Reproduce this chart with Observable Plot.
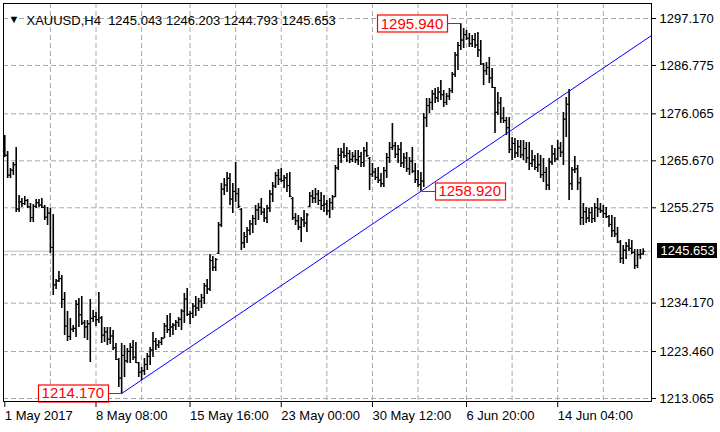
<!DOCTYPE html>
<html><head><meta charset="utf-8">
<script src="https://cdn.jsdelivr.net/npm/d3@7"></script>
<script src="https://cdn.jsdelivr.net/npm/@observablehq/plot@0.6"></script>
<style>
html,body{margin:0;padding:0;background:#fff;}
#chart svg text{font-family:"Liberation Sans",Arial,sans-serif;}
g[aria-label="x-axis tick label"] text, g[aria-label="x-axis"] text{text-anchor:start;}
#chart svg text{white-space:pre;}
</style></head><body><div id="chart"></div>
<script>
const symbolName = "XAUUSD,H4";
const timeLabels = ["1 May 2017","8 May 08:00","15 May 16:00","23 May 00:00","30 May 12:00","6 Jun 20:00","14 Jun 04:00"];
const timeLabelBars = [0,32,65,97,129,162,194];
const timeGridBars = [16,32,48,65,81,97,113,129,145,162,178,194,210];
const priceTicks = [1213.065,1223.460,1234.170,1255.275,1265.670,1276.065,1286.775,1297.170];
const priceGrid = [1213.065,1223.460,1234.170,1244.880,1255.275,1265.670,1276.065,1286.775,1297.170];

const open = [1267.8,1266.9,1262.5,1263.6,1264.8,1255.0,1256.6,1256.2,1256.9,1255.5,
1253.1,1255.6,1256.4,1255.9,1255.4,1253.2,1254.1,1246.5,1238.2,1239.1,
1239.6,1235.0,1229.1,1226.8,1228.4,1228.6,1233.9,1231.6,1229.8,1228.9,
1229.6,1230.8,1231.2,1230.5,1230.9,1227.1,1227.8,1226.2,1226.9,1224.3,
1221.7,1217.6,1222.6,1221.4,1223.5,1224.4,1222.2,1221.0,1218.9,1219.2,
1220.6,1222.4,1223.8,1225.7,1224.9,1225.5,1226.4,1229.1,1228.3,1228.9,
1229.3,1229.9,1230.6,1232.4,1235.1,1231.7,1231.9,1233.5,1233.1,1234.6,
1235.4,1238.0,1237.3,1243.6,1242.1,1245.2,1251.5,1259.4,1260.3,1261.8,
1257.2,1258.9,1258.4,1254.9,1247.5,1248.9,1250.3,1251.7,1252.9,1254.8,
1255.4,1254.3,1253.0,1255.2,1258.3,1260.1,1262.4,1261.6,1261.3,1261.9,
1260.2,1257.3,1253.1,1252.4,1251.0,1252.6,1251.9,1255.6,1257.9,1257.4,
1258.3,1256.9,1255.8,1256.1,1254.6,1256.4,1257.7,1264.1,1266.9,1267.6,
1266.8,1267.3,1266.0,1266.7,1265.9,1266.6,1265.3,1267.9,1266.2,1262.7,
1263.2,1262.0,1261.4,1260.6,1263.5,1266.4,1268.6,1269.0,1267.1,1268.2,
1265.2,1266.3,1263.9,1265.6,1263.4,1261.5,1260.4,1261.2,1275.2,1277.9,
1278.6,1280.5,1279.6,1280.9,1280.3,1278.6,1280.0,1281.2,1284.8,1289.1,
1291.2,1292.4,1293.6,1292.8,1291.6,1292.5,1291.3,1290.2,1287.1,1285.6,
1286.3,1284.0,1281.9,1276.4,1278.5,1275.1,1274.6,1273.0,1268.2,1269.5,
1267.4,1268.8,1267.0,1268.4,1266.3,1265.1,1265.9,1264.2,1264.8,1262.6,
1263.1,1260.3,1265.4,1267.2,1266.1,1268.5,1267.6,1274.9,1278.2,1260.6,
1263.7,1263.9,1260.8,1253.1,1254.4,1253.0,1254.2,1252.9,1255.3,1255.0,
1254.6,1254.0,1253.3,1251.6,1250.2,1249.5,1247.7,1244.1,1245.9,1246.8,
1246.3,1245.4,1242.5,1244.9,1245.043];

const high = [1271.27,1267.73,1263.97,1265.30,1268.62,1258.00,1257.33,1257.77,1257.11,1256.22,
1256.00,1257.11,1257.11,1257.33,1255.78,1255.34,1255.12,1253.79,1239.40,1241.18,
1240.29,1236.53,1232.32,1230.77,1229.22,1234.76,1235.20,1235.64,1230.33,1230.33,
1234.98,1232.54,1232.10,1236.53,1231.21,1228.78,1228.78,1228.78,1228.12,1225.24,
1221.92,1225.24,1224.80,1224.13,1225.24,1225.90,1225.46,1221.03,1219.93,1221.92,
1223.03,1224.35,1227.67,1226.34,1225.90,1226.57,1229.66,1231.44,1231.88,1229.66,
1230.33,1230.99,1232.77,1236.31,1237.41,1232.32,1234.09,1235.64,1235.20,1236.08,
1238.52,1239.40,1244.94,1244.50,1244.05,1252.02,1260.65,1261.76,1263.09,1262.87,
1260.65,1265.30,1259.55,1255.12,1249.81,1250.91,1252.46,1253.57,1255.78,1256.22,
1257.33,1255.12,1255.78,1259.10,1260.87,1263.09,1263.75,1263.97,1262.42,1262.87,
1263.09,1257.55,1254.01,1253.57,1253.13,1254.68,1254.01,1258.66,1259.10,1259.55,
1259.10,1258.66,1258.00,1256.89,1257.33,1258.00,1264.64,1268.40,1268.40,1269.50,
1268.62,1267.95,1267.51,1267.95,1267.95,1267.51,1268.62,1269.73,1266.41,1265.08,
1263.97,1264.19,1262.87,1264.19,1267.29,1269.73,1273.93,1269.73,1269.06,1269.73,
1267.29,1267.51,1266.41,1268.62,1265.08,1263.53,1263.09,1276.14,1279.46,1279.46,
1281.23,1281.68,1281.90,1283.45,1281.23,1280.57,1281.68,1285.22,1289.65,1291.86,
1295.94,1294.96,1294.51,1293.85,1293.41,1293.85,1294.07,1292.30,1287.21,1287.43,
1288.54,1286.10,1281.90,1280.79,1279.69,1277.47,1275.26,1275.26,1270.83,1270.61,
1270.17,1270.17,1270.17,1269.73,1269.73,1267.95,1266.85,1267.29,1266.85,1266.18,
1264.19,1266.18,1269.06,1268.40,1270.17,1269.73,1276.37,1279.69,1281.46,1264.19,
1266.63,1264.64,1261.98,1256.22,1255.34,1255.12,1255.34,1256.22,1257.33,1256.22,
1255.78,1255.34,1253.57,1253.57,1253.13,1250.91,1248.04,1246.93,1247.59,1248.26,
1248.04,1246.04,1246.04,1246.04,1246.203];

const low = [1266.41,1261.76,1261.76,1262.42,1254.23,1254.23,1255.34,1255.78,1255.12,1252.02,
1252.02,1255.12,1255.34,1255.12,1252.46,1251.36,1245.16,1235.86,1237.19,1238.74,
1232.99,1227.01,1225.68,1225.90,1227.67,1226.57,1228.78,1229.22,1226.34,1225.90,
1221.03,1229.89,1229.00,1229.66,1225.24,1225.46,1224.80,1225.02,1223.69,1221.48,
1215.50,1214.17,1217.71,1220.81,1220.81,1221.48,1220.81,1217.71,1217.05,1218.16,
1219.26,1220.37,1222.14,1223.69,1224.13,1224.80,1226.34,1227.45,1226.57,1227.01,
1228.12,1228.78,1228.12,1229.66,1231.21,1229.44,1230.77,1231.21,1232.32,1232.99,
1233.87,1236.08,1236.75,1241.18,1241.18,1244.94,1250.91,1258.00,1258.66,1255.78,
1254.01,1256.45,1255.12,1245.82,1246.26,1247.37,1249.14,1249.59,1251.36,1252.46,
1253.57,1252.02,1251.80,1254.23,1256.45,1259.55,1260.21,1260.87,1259.55,1258.66,
1257.55,1252.46,1251.36,1250.25,1247.59,1250.91,1249.81,1255.34,1256.22,1256.22,
1255.78,1254.68,1254.23,1253.57,1252.91,1254.68,1257.55,1263.53,1265.08,1266.18,
1265.30,1265.08,1265.30,1265.08,1264.64,1264.19,1264.19,1266.41,1259.10,1261.98,
1261.32,1260.65,1259.77,1259.77,1261.76,1265.08,1267.95,1266.18,1265.08,1264.19,
1263.97,1263.09,1262.42,1262.87,1260.65,1259.77,1258.92,1259.77,1273.04,1276.14,
1276.81,1278.36,1278.58,1279.02,1277.47,1277.91,1279.02,1280.57,1284.11,1285.66,
1290.09,1290.53,1292.30,1290.75,1290.75,1290.53,1288.54,1286.77,1282.34,1284.55,
1282.79,1281.68,1271.72,1275.70,1273.93,1273.93,1271.27,1267.29,1265.74,1266.18,
1266.41,1266.18,1265.74,1265.08,1263.53,1264.19,1263.53,1263.09,1261.76,1260.87,
1259.10,1259.10,1264.64,1265.30,1265.74,1266.41,1264.64,1270.83,1256.89,1259.10,
1262.87,1259.10,1251.36,1251.36,1251.80,1252.02,1251.80,1252.02,1253.13,1254.01,
1252.91,1252.91,1250.91,1248.70,1248.70,1247.37,1242.95,1242.72,1243.83,1245.60,
1244.94,1241.62,1241.84,1243.83,1244.793];

const close = [1266.9,1262.5,1263.6,1264.8,1255.0,1256.6,1256.2,1256.9,1255.5,1253.1,
1255.6,1256.4,1255.9,1255.4,1253.2,1254.1,1246.5,1238.2,1239.1,1239.6,
1235.0,1229.1,1226.8,1228.4,1228.6,1233.9,1231.6,1229.8,1228.9,1229.6,
1230.8,1231.2,1230.5,1230.9,1227.1,1227.8,1226.2,1226.9,1224.3,1221.7,
1217.6,1222.6,1221.4,1223.5,1224.4,1222.2,1221.0,1218.9,1219.2,1220.6,
1222.4,1223.8,1225.7,1224.9,1225.5,1226.4,1229.1,1228.3,1228.9,1229.3,
1229.9,1230.6,1232.4,1235.1,1231.7,1231.9,1233.5,1233.1,1234.6,1235.4,
1238.0,1237.3,1243.6,1242.1,1243.8,1251.5,1259.4,1260.3,1261.8,1257.2,
1258.9,1258.4,1255.6,1247.5,1248.9,1250.3,1251.7,1252.9,1254.8,1255.4,
1254.3,1253.0,1255.2,1258.3,1260.1,1262.4,1261.6,1261.3,1261.9,1260.2,
1257.8,1253.1,1252.4,1251.0,1252.6,1251.9,1253.7,1257.9,1257.4,1258.3,
1256.9,1255.8,1256.1,1254.6,1256.4,1257.7,1264.1,1266.9,1267.6,1266.8,
1267.3,1266.0,1266.7,1265.9,1266.6,1265.3,1267.9,1266.8,1262.7,1263.2,
1262.0,1261.4,1260.6,1263.5,1266.4,1268.6,1269.0,1267.1,1268.2,1265.2,
1266.3,1263.9,1265.6,1263.4,1261.5,1260.4,1261.2,1275.2,1277.9,1278.6,
1280.5,1279.6,1280.9,1280.3,1278.6,1280.0,1281.2,1284.8,1289.1,1291.2,
1292.4,1293.6,1292.8,1291.6,1292.5,1291.3,1290.2,1287.1,1285.6,1286.3,
1284.0,1281.9,1276.4,1278.5,1275.1,1274.6,1273.0,1268.2,1269.5,1267.4,
1268.8,1267.0,1268.4,1266.3,1265.1,1265.9,1264.2,1264.8,1262.6,1263.1,
1260.3,1265.4,1267.2,1266.1,1268.5,1267.6,1274.9,1278.2,1260.6,1263.7,
1263.9,1260.8,1253.1,1254.4,1253.0,1254.2,1252.9,1255.3,1255.0,1254.6,
1254.0,1253.3,1251.6,1250.2,1249.5,1247.7,1244.1,1245.9,1246.8,1246.3,
1245.4,1242.5,1244.9,1245.04,1245.653];

const trendAnchors = [{bar: 41, price: 1214.170}, {bar: 146, price: 1258.920}];
const notes = [
  {bar: 41, price: 1214.170, side: "left"},
  {bar: 146, price: 1258.920, side: "right"},
  {bar: 160, price: 1295.940, side: "left"}
];

const bars = high.map((h, i) => ({i, open: open[i], high: h, low: low[i], close: close[i]}));
const last = bars[bars.length - 1];
const xDomain = [-0.456, 226.91];
const yDomain = [1212.401, 1300.49];

const slope = (trendAnchors[1].price - trendAnchors[0].price) / (trendAnchors[1].bar - trendAnchors[0].bar);
const trendPts = [trendAnchors[0], {bar: xDomain[1], price: trendAnchors[0].price + slope * (xDomain[1] - trendAnchors[0].bar)}];

const openTick = {draw(ctx) { ctx.moveTo(-2, 0); ctx.lineTo(0, 0); }};
const closeTick = {draw(ctx) { ctx.moveTo(0, 0); ctx.lineTo(2, 0); }};

const titleText = symbolName + "\u00a0\u00a0" + [last.open, last.high, last.low, last.close].map(v => v.toFixed(3)).join(" ");
const gridColor = "#a9a9a9";
const noteFill = "#ff0000";
const tagFill = "#fffffe";

const chart = Plot.plot({
  width: 720, height: 432,
  marginTop: 3, marginLeft: 3, marginRight: 69, marginBottom: 31,
  style: {fontFamily: "Liberation Sans, Arial, sans-serif", fontSize: "13px", background: "#fff", color: "#000"},
  x: {type: "linear", domain: xDomain, axis: "bottom", ticks: timeLabelBars,
      tickFormat: d => timeLabels[timeLabelBars.indexOf(d)], tickSize: 6, tickPadding: 3, label: null},
  y: {type: "linear", domain: yDomain, axis: "right", ticks: priceTicks,
      tickFormat: d => d.toFixed(3), tickSize: 4, tickPadding: 4, label: null},
  marks: [
    Plot.ruleY(priceGrid, {stroke: gridColor, strokeDasharray: "5,3"}),
    Plot.ruleX(timeGridBars, {stroke: gridColor, strokeDasharray: "5,3"}),
    Plot.ruleY([last.close], {stroke: "#c0c0c0"}),
    Plot.ruleX(bars, {x: "i", y1: "low", y2: "high", stroke: "#000", strokeWidth: 1.6}),
    Plot.dot(bars, {x: "i", y: "open", symbol: openTick, r: 1, stroke: "#000", fill: "none", strokeWidth: 1}),
    Plot.dot(bars, {x: "i", y: "close", symbol: closeTick, r: 1, stroke: "#000", fill: "none", strokeWidth: 1}),
    Plot.line(trendPts, {x: "bar", y: "price", stroke: "#0000ff", strokeWidth: 1}),
    Plot.text(notes.filter(d => d.side === "left"), {x: "bar", y: "price", text: d => d.price.toFixed(3),
      textAnchor: "end", dx: -17.5, fill: noteFill, fontSize: 15}),
    Plot.text(notes.filter(d => d.side === "right"), {x: "bar", y: "price", text: d => d.price.toFixed(3),
      textAnchor: "start", dx: 17.5, fill: noteFill, fontSize: 15}),
    Plot.text([last.close], {y: d => d, text: d => d.toFixed(3), frameAnchor: "right", dx: 9,
      textAnchor: "start", fill: tagFill, fontSize: 13}),
    Plot.text(["\u25BC"], {text: d => d, frameAnchor: "top-left", dx: 10.5, dy: 11.5, textAnchor: "middle",
      fontSize: 11, fill: "#000"}),
    Plot.text([titleText], {text: d => d, frameAnchor: "top-left", dx: 23, dy: 12, textAnchor: "start",
      fontSize: 13, fill: "#000"}),
    Plot.frame({stroke: "#000"})
  ]
});

document.getElementById("chart").append(chart);
const svgNode = chart.tagName.toLowerCase() === "svg" ? chart : chart.querySelector("svg");
const sb = svgNode.getBoundingClientRect();
const NS = "http://www.w3.org/2000/svg";

function layerBefore(textEl) {
  const g = textEl.closest("g") || svgNode;
  const layer = document.createElementNS(NS, "g");
  g.parentNode.insertBefore(layer, g);
  return d3.select(layer);
}
const noteTexts = notes.map(d => d.price.toFixed(3));
const tagText = last.close.toFixed(3);
svgNode.querySelectorAll("text").forEach(t => {
  const s = t.textContent;
  const b = t.getBoundingClientRect();
  const x = b.left - sb.left, y = b.top - sb.top, w = b.width, h = b.height;
  const ni = noteTexts.indexOf(s);
  if (ni >= 0) {
    const side = notes[ni].side;
    const layer = layerBefore(t);
    const cy = Math.round(y + h / 2) + 0.5;
    const rx = Math.round(x - 3.5) + 0.5, rw = Math.round(w + 7);
    layer.append("rect").attr("x", rx).attr("y", cy - 8.5).attr("width", rw).attr("height", 17)
      .attr("fill", "#fff").attr("stroke", noteFill).attr("stroke-width", 1.2);
    const x1 = side === "left" ? rx + rw : rx - 14;
    const x2 = side === "left" ? rx + rw + 14 : rx;
    layer.append("line").attr("x1", x1).attr("x2", x2).attr("y1", cy).attr("y2", cy)
      .attr("stroke", noteFill).attr("stroke-width", 1);
  } else if (s === tagText) {
    const layer = layerBefore(t);
    const cy = y + h / 2;
    layer.append("rect").attr("x", Math.round(x - 4)).attr("y", Math.round(cy - 7.5))
      .attr("width", Math.round(w + 6)).attr("height", 15).attr("fill", "#000");
  }
});
</script></body></html>
